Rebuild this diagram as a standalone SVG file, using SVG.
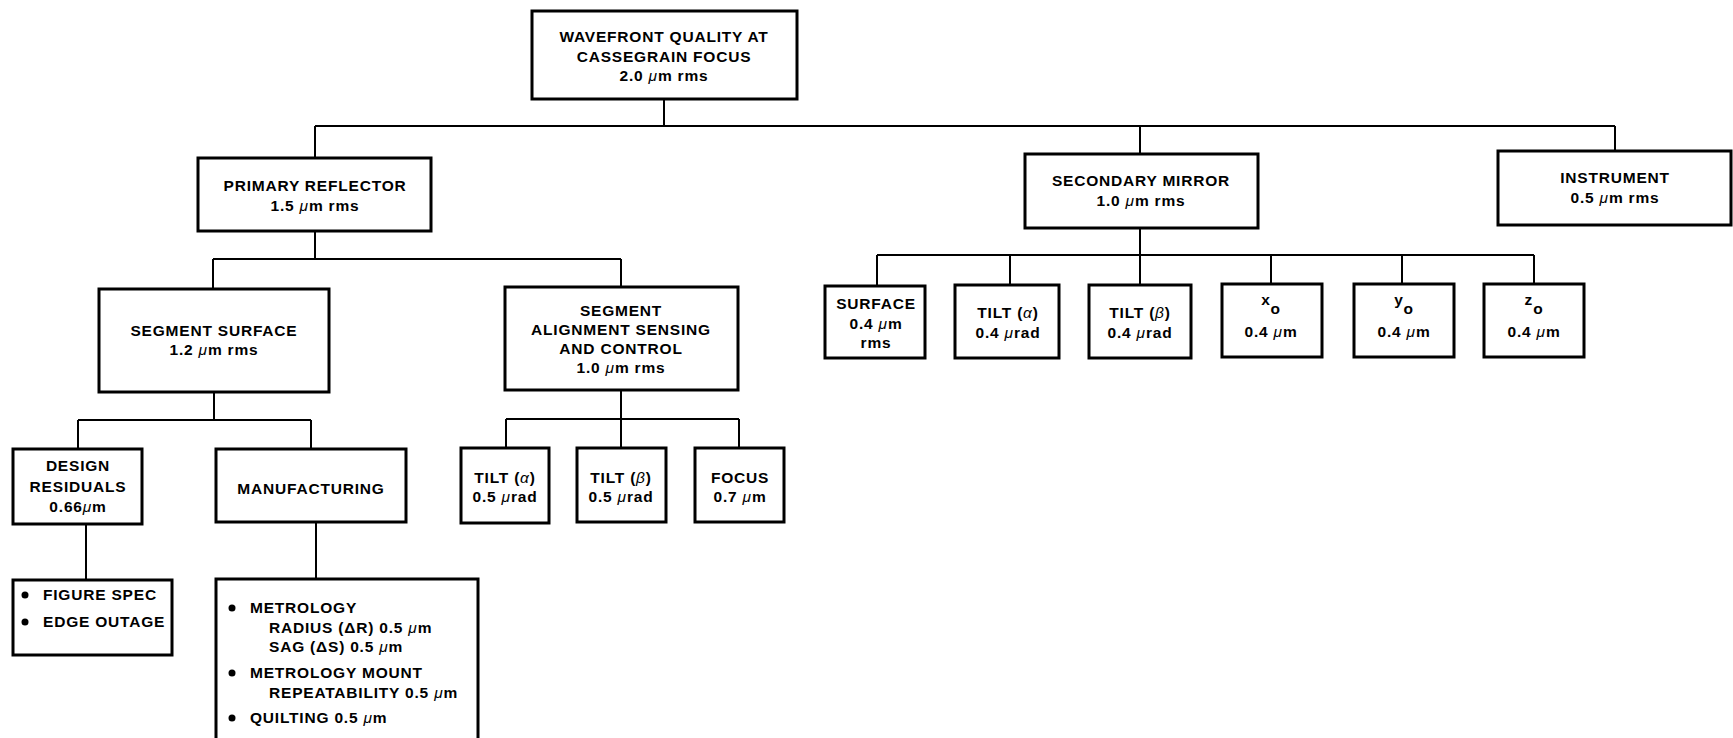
<svg xmlns="http://www.w3.org/2000/svg" width="1733" height="738" viewBox="0 0 1733 738">
<style>
.box{fill:#fff;stroke:#000;stroke-width:3}
.conn{fill:none;stroke:#000;stroke-width:2}
text{font-family:"Liberation Sans",Arial,sans-serif;font-weight:bold;font-size:15.5px;letter-spacing:0.8px;fill:#000}
.c{text-anchor:middle}
.g{font-style:italic;font-weight:normal}
.dot{fill:#000}
</style>
<rect width="1733" height="738" fill="#fff"/>
<g id="connectors">
<path class="conn" d="M664,99V126M315,126H1615M315,126V158M1140,126V154M1615,126V151"/>
<path class="conn" d="M315,231V259M213,259H621M213,259V289M621,259V287"/>
<path class="conn" d="M214,392V420M78,420H311M78,420V449M311,420V449"/>
<path class="conn" d="M86,524V580M316,522V579"/>
<path class="conn" d="M621,390V419M506,419H739M506,419V448M621,419V448M739,419V448"/>
<path class="conn" d="M1140,228V255M877,255H1534M877,255V286M1010,255V285M1140,255V285M1271,255V284M1402,255V284M1534,255V284"/>
</g>
<g id="top">
<rect class="box" x="532" y="11" width="265" height="88"/>
<text class="c" x="664" y="42">WAVEFRONT QUALITY AT</text>
<text class="c" x="664" y="62">CASSEGRAIN FOCUS</text>
<text class="c" x="664" y="81">2.0 <tspan class="g">μ</tspan>m rms</text>
</g>
<g id="primary">
<rect class="box" x="198" y="158" width="233" height="73"/>
<text class="c" x="315" y="191">PRIMARY REFLECTOR</text>
<text class="c" x="315" y="211">1.5 <tspan class="g">μ</tspan>m rms</text>
</g>
<g id="segsurface">
<rect class="box" x="99" y="289" width="230" height="103"/>
<text class="c" x="214" y="336">SEGMENT SURFACE</text>
<text class="c" x="214" y="355">1.2 <tspan class="g">μ</tspan>m rms</text>
</g>
<g id="segalign">
<rect class="box" x="505" y="287" width="233" height="103"/>
<text class="c" x="621" y="316">SEGMENT</text>
<text class="c" x="621" y="335">ALIGNMENT SENSING</text>
<text class="c" x="621" y="354">AND CONTROL</text>
<text class="c" x="621" y="373">1.0 <tspan class="g">μ</tspan>m rms</text>
</g>
<g id="design">
<rect class="box" x="13" y="449" width="129" height="75"/>
<text class="c" x="78" y="471">DESIGN</text>
<text class="c" x="78" y="492">RESIDUALS</text>
<text class="c" x="78" y="512">0.66<tspan class="g">μ</tspan>m</text>
</g>
<g id="manufacturing">
<rect class="box" x="216" y="449" width="190" height="73"/>
<text class="c" x="311" y="494">MANUFACTURING</text>
</g>
<g id="figure">
<rect class="box" x="13" y="580" width="159" height="75"/>
<circle class="dot" cx="25" cy="595" r="3.5"/>
<text x="43" y="600">FIGURE SPEC</text>
<circle class="dot" cx="25" cy="622" r="3.5"/>
<text x="43" y="627">EDGE OUTAGE</text>
</g>
<g id="metrology">
<rect class="box" x="216" y="579" width="262" height="180"/>
<circle class="dot" cx="232" cy="608" r="3.5"/>
<text x="250" y="613">METROLOGY</text>
<text x="269" y="633">RADIUS (ΔR) 0.5 <tspan class="g">μ</tspan>m</text>
<text x="269" y="652">SAG (ΔS) 0.5 <tspan class="g">μ</tspan>m</text>
<circle class="dot" cx="232" cy="673" r="3.5"/>
<text x="250" y="678">METROLOGY MOUNT</text>
<text x="269" y="698">REPEATABILITY 0.5 <tspan class="g">μ</tspan>m</text>
<circle class="dot" cx="232" cy="718" r="3.5"/>
<text x="250" y="723">QUILTING 0.5 <tspan class="g">μ</tspan>m</text>
</g>
<g id="tiltA1">
<rect class="box" x="461" y="448" width="88" height="75"/>
<text class="c" x="505" y="483">TILT (<tspan class="g">α</tspan>)</text>
<text class="c" x="505" y="502">0.5 <tspan class="g">μ</tspan>rad</text>
</g>
<g id="tiltB1">
<rect class="box" x="577" y="448" width="89" height="74"/>
<text class="c" x="621" y="483">TILT (<tspan class="g">β</tspan>)</text>
<text class="c" x="621" y="502">0.5 <tspan class="g">μ</tspan>rad</text>
</g>
<g id="focus">
<rect class="box" x="695" y="448" width="89" height="74"/>
<text class="c" x="740" y="483">FOCUS</text>
<text class="c" x="740" y="502">0.7 <tspan class="g">μ</tspan>m</text>
</g>
<g id="secondary">
<rect class="box" x="1025" y="154" width="233" height="74"/>
<text class="c" x="1141" y="186">SECONDARY MIRROR</text>
<text class="c" x="1141" y="206">1.0 <tspan class="g">μ</tspan>m rms</text>
</g>
<g id="instrument">
<rect class="box" x="1498" y="151" width="233" height="74"/>
<text class="c" x="1615" y="183">INSTRUMENT</text>
<text class="c" x="1615" y="203">0.5 <tspan class="g">μ</tspan>m rms</text>
</g>
<g id="surface2">
<rect class="box" x="825" y="286" width="100" height="72"/>
<text class="c" x="876" y="309">SURFACE</text>
<text class="c" x="876" y="329">0.4 <tspan class="g">μ</tspan>m</text>
<text class="c" x="876" y="348">rms</text>
</g>
<g id="tiltA2">
<rect class="box" x="955" y="285" width="104" height="73"/>
<text class="c" x="1008" y="318">TILT (<tspan class="g">α</tspan>)</text>
<text class="c" x="1008" y="338">0.4 <tspan class="g">μ</tspan>rad</text>
</g>
<g id="tiltB2">
<rect class="box" x="1089" y="285" width="102" height="73"/>
<text class="c" x="1140" y="318">TILT (<tspan class="g">β</tspan>)</text>
<text class="c" x="1140" y="338">0.4 <tspan class="g">μ</tspan>rad</text>
</g>
<g id="x0">
<rect class="box" x="1222" y="284" width="100" height="73"/>
<text class="c" x="1271" y="305">x<tspan dy="9">o</tspan></text>
<text class="c" x="1271" y="337">0.4 <tspan class="g">μ</tspan>m</text>
</g>
<g id="y0">
<rect class="box" x="1354" y="284" width="100" height="73"/>
<text class="c" x="1404" y="305">y<tspan dy="9">o</tspan></text>
<text class="c" x="1404" y="337">0.4 <tspan class="g">μ</tspan>m</text>
</g>
<g id="z0">
<rect class="box" x="1484" y="284" width="100" height="73"/>
<text class="c" x="1534" y="305">z<tspan dy="9">o</tspan></text>
<text class="c" x="1534" y="337">0.4 <tspan class="g">μ</tspan>m</text>
</g>
</svg>
